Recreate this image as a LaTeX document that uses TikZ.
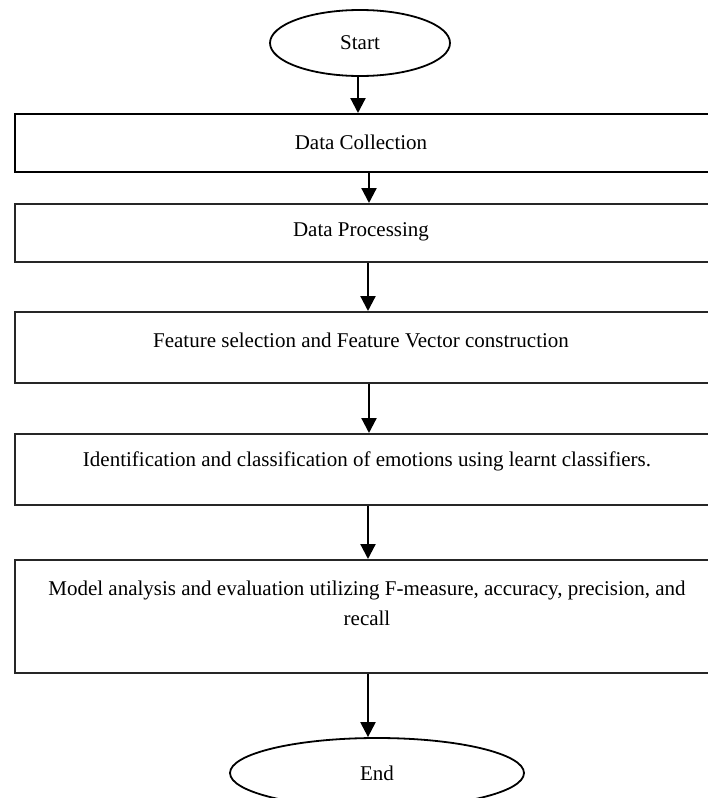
\documentclass[tikz,border=0pt]{standalone}
\usepackage{fontspec}
\setmainfont{Liberation Serif}
\usetikzlibrary{shapes.geometric,arrows.meta}
\begin{document}
\begin{tikzpicture}[x=1pt,y=-1pt,
  every node/.style={font=\fontsize{21}{30}\selectfont},
  term/.style={draw=black,line width=1.8pt,ellipse,inner sep=0pt},
  stepbox/.style={draw=black!85,line width=1.7pt,rectangle,minimum width=708pt,anchor=north west,inner sep=0pt},
  label/.style={inner sep=0pt,align=center},
  arr/.style={line width=2.2pt,-{Triangle[length=15pt,width=15pt]}}]
\useasboundingbox (0,0) rectangle (708,798);
\fill[white] (0,0) rectangle (708,798);
% terminals
\node[term,minimum width=180pt,minimum height=66pt] (start) at (360,43) {Start};
\node[term,minimum width=294pt,minimum height=70pt] (end) at (377,773) {End};
% boxes
\node[stepbox,draw=black,line width=2.2pt,minimum height=58pt] (b1) at (14,113) {};
\node[stepbox,minimum height=58pt] (b2) at (14,203) {};
\node[stepbox,minimum height=71pt] (b3) at (14,311) {};
\node[stepbox,minimum height=71pt] (b4) at (14,433) {};
\node[stepbox,minimum height=113pt] (b5) at (14,559) {};
% texts
\node[label] (t1) at (361,142) {Data Collection};
\node[label] (t2) at (361,232) {Data Processing};
\node[label] (t3) at (361,340) {Feature selection and Feature Vector construction};
\node[label] (t4) at (367,461) {Identification and classification of emotions using learnt classifiers.};
\node[label] (t5) at (367,603) {Model analysis and evaluation utilizing F-measure, accuracy, precision, and\\recall};
% arrow x positions
\coordinate (ax0) at (358,0);
\coordinate (ax) at (369,0);
\coordinate (ae) at (368,0);
% connectors
\draw[arr] (start.south -| ax0) -- (b1.north -| ax0);
\draw[arr] (b1.south -| ax) -- (b2.north -| ax);
\draw[arr] (b2.south -| ae) -- (b3.north -| ae);
\draw[arr] (b3.south -| ax) -- (b4.north -| ax);
\draw[arr] (b4.south -| ae) -- (b5.north -| ae);
\draw[arr] (b5.south -| ae) -- (end.north -| ae);
\end{tikzpicture}
\end{document}
